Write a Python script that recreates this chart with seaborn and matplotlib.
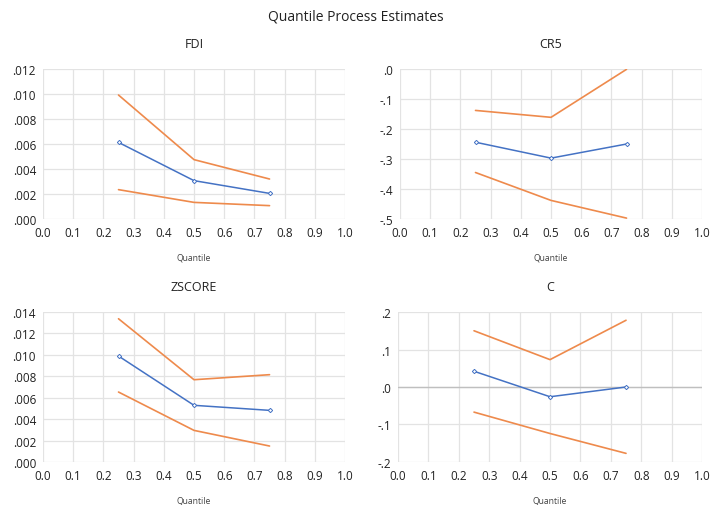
import numpy as np
import pandas as pd
import seaborn as sns
import matplotlib.pyplot as plt
from matplotlib.ticker import FuncFormatter

# quantiles estimated
quantiles = [0.25, 0.5, 0.75]

# estimate, upper band, lower band per variable
fdi_est = [0.00613, 0.00307, 0.00205]
fdi_hi = [0.00992, 0.00475, 0.00320]
fdi_lo = [0.00235, 0.00133, 0.00107]

cr5_est = [-0.244, -0.297, -0.250]
cr5_hi = [-0.138, -0.161, -0.001]
cr5_lo = [-0.345, -0.438, -0.497]

zscore_est = [0.00989, 0.00529, 0.00482]
zscore_hi = [0.01337, 0.00768, 0.00815]
zscore_lo = [0.00653, 0.00295, 0.00149]

c_est = [0.042, -0.026, 0.000]
c_hi = [0.150, 0.073, 0.178]
c_lo = [-0.067, -0.124, -0.177]

panels = ['FDI', 'CR5', 'ZSCORE', 'C']
est = {'FDI': fdi_est, 'CR5': cr5_est, 'ZSCORE': zscore_est, 'C': c_est}
hi = {'FDI': fdi_hi, 'CR5': cr5_hi, 'ZSCORE': zscore_hi, 'C': c_hi}
lo = {'FDI': fdi_lo, 'CR5': cr5_lo, 'ZSCORE': zscore_lo, 'C': c_lo}

# y axis setup (min, max, step, decimals)
yaxis = {'FDI': (0.0, 0.012, 0.002, 3), 'CR5': (-0.5, 0.0, 0.1, 1),
         'ZSCORE': (0.0, 0.014, 0.002, 3), 'C': (-0.2, 0.2, 0.1, 1)}

rows = []
for p in panels:
    for name, d in [('est', est), ('hi', hi), ('lo', lo)]:
        for q, v in zip(quantiles, d[p]):
            rows.append({'panel': p, 'series': name, 'quantile': q, 'value': v})
df = pd.DataFrame(rows)

sns.set_style('white')
plt.rcParams['font.family'] = ['Open Sans', 'DejaVu Sans']

blue = '#4472C4'
orange = '#EE8A4C'

fig = plt.figure(figsize=(7.12, 5.06), dpi=100)
fig.text(0.5, 0.967, 'Quantile Process Estimates', ha='center', va='center',
         fontsize=10, color='#222222')

positions = {'FDI': [0.0604, 0.5652, 0.4242, 0.2964],
             'CR5': [0.5618, 0.5652, 0.4242, 0.2964],
             'ZSCORE': [0.0604, 0.0850, 0.4242, 0.2964],
             'C': [0.5590, 0.0850, 0.4270, 0.2964]}


def fmt(dec):
    def f(v, pos):
        s = f'{v:.{dec}f}'
        s = s.replace('0.', '.', 1)
        if s.startswith('-.') and float(s) == 0:
            s = s[1:]
        return s
    return FuncFormatter(f)


for p in panels:
    ax = fig.add_axes(positions[p])
    sub = df[df.panel == p]
    sns.lineplot(data=sub[sub.series == 'hi'], x='quantile', y='value',
                 color=orange, linewidth=1.2, ax=ax)
    sns.lineplot(data=sub[sub.series == 'lo'], x='quantile', y='value',
                 color=orange, linewidth=1.2, ax=ax)
    sns.lineplot(data=sub[sub.series == 'est'], x='quantile', y='value',
                 color=blue, linewidth=1.1, marker='D', markersize=2.2,
                 markerfacecolor='white', markeredgecolor=blue,
                 markeredgewidth=0.7, ax=ax)
    ymin, ymax, step, dec = yaxis[p]
    ax.set_xlim(0, 1)
    ax.set_ylim(ymin, ymax)
    ax.set_xticks(np.arange(0, 1.01, 0.1))
    ax.set_yticks(np.arange(ymin, ymax + step / 2, step))
    ax.xaxis.set_major_formatter(FuncFormatter(lambda v, pos: f'{v:.1f}'))
    ax.yaxis.set_major_formatter(fmt(dec))
    ax.grid(True, color='#e3e3e3', linewidth=0.9)
    ax.set_axisbelow(True)
    for s in ax.spines.values():
        s.set_visible(False)
    if ymin < 0 < ymax:
        ax.axhline(0, color='#bfbfbf', linewidth=1.0, zorder=1)
    ax.tick_params(axis='both', length=0, labelsize=8.5, colors='#222222')
    ax.tick_params(axis='x', pad=5)
    ax.tick_params(axis='y', pad=5)
    ax.set_title(p, fontsize=9, color='#222222', pad=16)
    ax.set_xlabel('Quantile', fontsize=6.2, color='#444444', labelpad=10)
    ax.set_ylabel('')

fig.savefig('out.png', dpi=100)
